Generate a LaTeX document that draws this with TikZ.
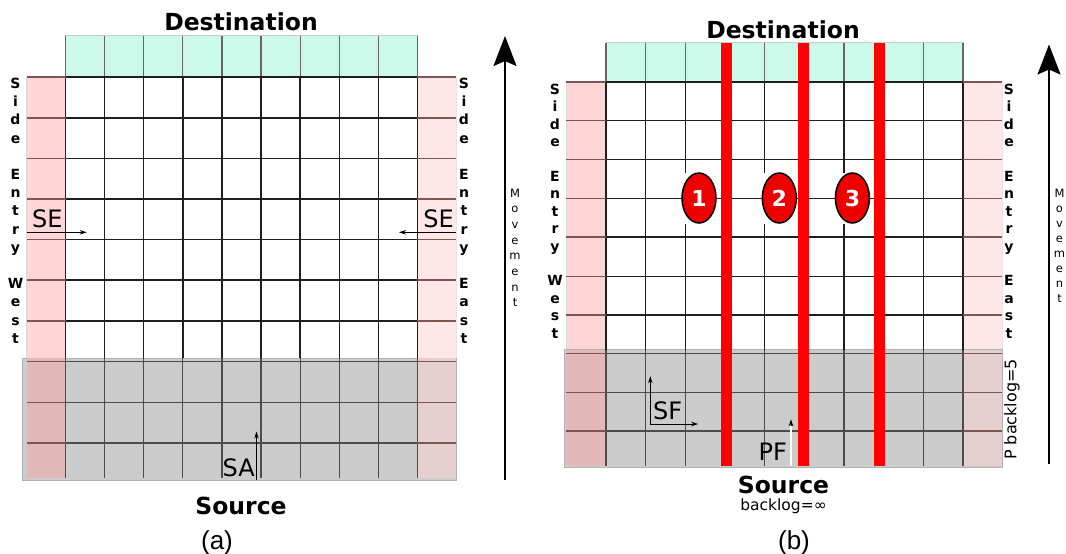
\documentclass[tikz,border=0pt]{standalone}
\usepackage{fontspec}
\setmainfont{Liberation Sans}
\newfontfamily\dv{DejaVu Sans}
\usetikzlibrary{arrows.meta,shapes.geometric}
\definecolor{mint}{RGB}{204,250,234}
\definecolor{pinkL}{RGB}{255,214,214}
\definecolor{pinkR}{RGB}{255,231,231}
\definecolor{greyR}{RGB}{204,204,204}
\definecolor{pinkLg}{RGB}{226,184,184}
\definecolor{pinkRg}{RGB}{229,207,207}
\definecolor{sideline}{RGB}{125,85,85}
\definecolor{barred}{RGB}{255,0,0}
\definecolor{numred}{RGB}{236,0,0}
\tikzset{
 gl/.style={line width=1.4pt, black!88},
 glg/.style={line width=1.2pt, black!70},
 glm/.style={line width=1.2pt, black!60},
 sl/.style={line width=1.4pt, sideline},
 sidetxt/.style={font=\dv\bfseries\fontsize{14}{14}\selectfont, inner sep=0pt, anchor=base},
 mvtxt/.style={font=\dv\fontsize{11.5}{11.5}\selectfont, inner sep=0pt, anchor=base},
 lbl/.style={font=\dv\fontsize{24}{24}\selectfont, inner sep=0pt},
 ttl/.style={font=\dv\bfseries\fontsize{23.5}{23.5}\selectfont, inner sep=0pt, anchor=base},
 subcap/.style={font=\fontsize{26}{26}\selectfont, inner sep=0pt, anchor=base},
 smallarr/.style={line width=0.9pt, -{Stealth[length=7pt,width=4.5pt]}},
 bigarr/.style={line width=2pt, -{Stealth[length=30pt,width=23pt,inset=5pt]}},
 num/.style={ellipse, draw=black, line width=1.5pt, fill=numred, minimum width=34pt, minimum height=50pt, inner sep=0pt, text=white, font=\dv\bfseries\fontsize{22}{22}\selectfont},
 redbar/.style={fill=barred},
}
\begin{document}
\begin{tikzpicture}[x=1pt,y=-1pt]
\useasboundingbox (0,0) rectangle (1066,554);
\fill[white] (0,0) rectangle (1066,554);

% ================= PANEL (a) =================
\fill[mint, draw=black!20, line width=0.6pt] (65.5,35.5) rectangle (417.4,77);
\fill[pinkL, draw=black!15, line width=0.6pt] (26.7,77) rectangle (65.5,358);
\fill[pinkR, draw=black!10, line width=0.6pt] (417.4,77) rectangle (456,358);
\fill[greyR, draw=black!30, line width=0.8pt] (22.7,358) rectangle (456,480);
\fill[pinkLg] (26.7,358) rectangle (65.5,478);
\fill[pinkRg] (417.4,358) rectangle (456,478);
% vertical grid lines
\foreach \i in {0,...,9}{
  \draw[glm] ({65.5+39.1*\i},35.5) -- ({65.5+39.1*\i},77);
  \draw[gl] ({65.5+39.1*\i},77) -- ({65.5+39.1*\i},358);
  \draw[glg] ({65.5+39.1*\i},358) -- ({65.5+39.1*\i},478);
}
% horizontal grid lines
\foreach \y in {77,118,158.5,199,239.5,280,321}{
  \draw[gl] (65.5,\y) -- (417.4,\y);
  \draw[sl] (26.7,\y) -- (65.5,\y);
  \draw[sl] (417.4,\y) -- (456,\y);
}
\foreach \y in {361.5,402.5,443}{
  \draw[glg] (65.5,\y) -- (417.4,\y);
  \draw[sl] (26.7,\y) -- (65.5,\y);
  \draw[sl] (417.4,\y) -- (456,\y);
}
% side texts
\foreach \c [count=\k] in {S,i,d,e,{},E,n,t,r,y,{},W,e,s,t}{
  \node[sidetxt] (aw\k) at (15.5,{88.5+18.2*(\k-1)}) {\c};
}
\foreach \c [count=\k] in {S,i,d,e,{},E,n,t,r,y,{},E,a,s,t}{
  \node[sidetxt] (ae\k) at (464,{88.5+18.2*(\k-1)}) {\c};
}
% titles
\node[ttl] (adest) at (241,30.5) {Destination};
\node[ttl] (asrc) at (241,514) {Source};
\node[subcap] (acap) at (217,549) {(a)};
% SE arrows
\node[lbl, anchor=base west] (se1) at (32,227) {SE};
\coordinate (se1a) at (26.7,232.3);
\coordinate (se1b) at (86.7,232.3);
\draw[smallarr] (se1a) -- (se1b);
\node[lbl, anchor=base east] (se2) at (454,227) {SE};
\coordinate (se2a) at (456,232.3);
\coordinate (se2b) at (399,232.3);
\draw[smallarr] (se2a) -- (se2b);
% SA
\node[lbl, anchor=base east] (sa) at (255,476) {SA};
\coordinate (saa) at (256.5,480);
\coordinate (sab) at (256.5,431.6);
\draw[smallarr] (saa) -- (sab);
% movement
\coordinate (ma0) at (505,480);
\coordinate (ma1) at (505,36);
\draw[bigarr] (ma0) -- (ma1);
\foreach \c [count=\k] in {M,o,v,e,m,e,n,t}{
  \node[mvtxt] (mva\k) at (515,{197+15.7*(\k-1)}) {\c};
}

% ================= PANEL (b) =================
\fill[mint, draw=black!20, line width=0.6pt] (606,42.7) rectangle (963,82);
\fill[pinkL, draw=black!15, line width=0.6pt] (566,82) rectangle (606,349.5);
\fill[pinkR, draw=black!10, line width=0.6pt] (963,82) rectangle (1002,349.5);
\fill[greyR, draw=black!30, line width=0.8pt] (564,349.5) rectangle (1002,467);
\fill[pinkLg] (566,349.5) rectangle (606,466);
\fill[pinkRg] (963,349.5) rectangle (1002,466);
\foreach \i in {0,...,9}{
  \draw[glm] ({606+39.67*\i},42.7) -- ({606+39.67*\i},82);
  \draw[gl] ({606+39.67*\i},82) -- ({606+39.67*\i},349.5);
  \draw[glg] ({606+39.67*\i},349.5) -- ({606+39.67*\i},466);
}
\foreach \y in {82,120.7,159.3,198.3,237,276.5,315}{
  \draw[gl] (606,\y) -- (963,\y);
  \draw[sl] (566,\y) -- (606,\y);
  \draw[sl] (963,\y) -- (1002,\y);
}
\foreach \y in {353.5,392.5,431}{
  \draw[glg] (606,\y) -- (963,\y);
  \draw[sl] (566,\y) -- (606,\y);
  \draw[sl] (963,\y) -- (1002,\y);
}
% red bars
\fill[redbar] (720.6,42.7) rectangle (732,466);
\fill[redbar] (797.5,42.7) rectangle (809,466);
\fill[redbar] (873.6,42.7) rectangle (885,466);
% numbered markers
\fill[white] (682,172.5) rectangle (716,223.5);
\fill[white] (762.5,172.5) rectangle (796,223.5);
\fill[white] (835.5,172.5) rectangle (869.5,223.5);
\node[num] (n1) at (699,198) {1};
\node[num] (n2) at (779.3,198) {2};
\node[num] (n3) at (852.4,198) {3};
% side texts
\foreach \c [count=\k] in {S,i,d,e,{},E,n,t,r,y,{},W,e,s,t}{
  \node[sidetxt] (bw\k) at (555,{94.4+17.4*(\k-1)}) {\c};
}
\foreach \c [count=\k] in {S,i,d,e,{},E,n,t,r,y,{},E,a,s,t}{
  \node[sidetxt] (be\k) at (1009,{94.4+17.4*(\k-1)}) {\c};
}
\node[rotate=90, font=\dv\fontsize{16}{16}\selectfont, inner sep=0pt] (pb) at (1012,409.5) {P backlog=5};
% titles
\node[ttl] (bdest) at (783,38.5) {Destination};
\node[ttl] (bsrc) at (783.5,493) {Source};
\node[font=\dv\fontsize{15.5}{15.5}\selectfont, inner sep=0pt, anchor=base] (bbl) at (783.5,510.5) {backlog=∞};
\node[subcap] (bcap) at (794,549) {(b)};
% SF
\coordinate (sfo) at (650.3,424);
\coordinate (sfu) at (650.3,376.2);
\coordinate (sfr) at (698.2,424);
\draw[smallarr] (sfo) -- (sfu);
\draw[smallarr] (sfo) -- (sfr);
\node[lbl, anchor=base west] (sf) at (653,419.6) {SF};
% PF
\node[lbl, anchor=base east] (pf) at (787,460) {PF};
\coordinate (pfa) at (791,466);
\coordinate (pfm) at (791,426);
\coordinate (pfb) at (791,419.3);
\draw[draw=black!55, double=white, double distance=1.2pt, line width=0.5pt] (pfa) -- (pfm);
\draw[smallarr] (pfm) -- (pfb);
% movement
\coordinate (mb0) at (1049,464);
\coordinate (mb1) at (1049,44.5);
\draw[bigarr] (mb0) -- (mb1);
\foreach \c [count=\k] in {M,o,v,e,m,e,n,t}{
  \node[mvtxt] (mvb\k) at (1059.5,{197+15*(\k-1)}) {\c};
}
\end{tikzpicture}
\end{document}
